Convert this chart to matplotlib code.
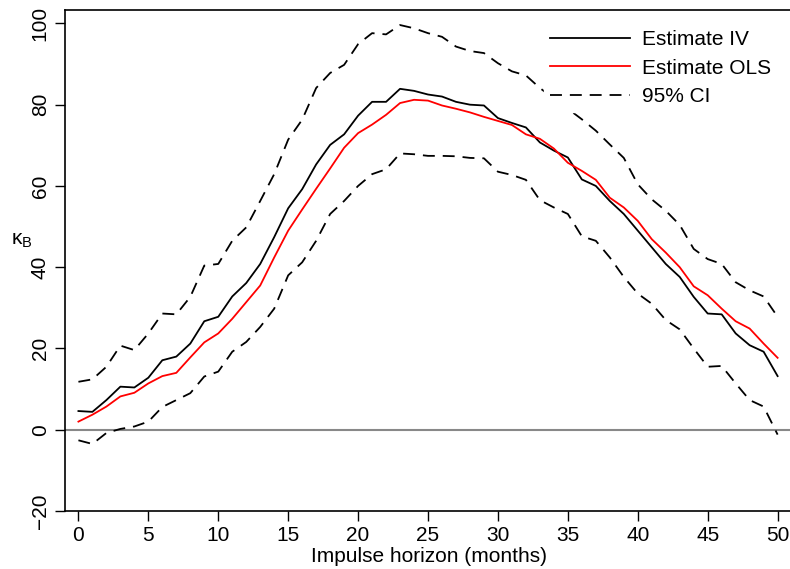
import matplotlib
matplotlib.use("Agg")
import matplotlib.pyplot as plt
import numpy as np

plt.rcParams['font.family'] = ['Liberation Sans', 'DejaVu Sans']
plt.rcParams['mathtext.fontset'] = 'custom'
plt.rcParams['mathtext.rm'] = 'Liberation Sans'
plt.rcParams['mathtext.it'] = 'Liberation Sans'

# Impulse horizon (months)
horizon = list(range(51))

estimate_iv = [4.6, 4.4, 7.3, 10.6, 10.4, 12.8, 17.1, 18.0, 21.2, 26.7,
               27.8, 32.8, 36.1, 40.8, 47.4, 54.5, 59.2, 65.3, 70.1, 72.7,
               77.3, 80.7, 80.7, 83.9, 83.4, 82.5, 82.0, 80.7, 80.0, 79.8,
               76.7, 75.5, 74.4, 70.7, 68.7, 67.0, 61.6, 60.0, 56.3, 53.1,
               49.0, 44.9, 40.8, 37.6, 32.7, 28.6, 28.4, 23.7, 20.8, 19.2,
               13.2]

estimate_ols = [2.0, 3.7, 5.7, 8.2, 9.1, 11.4, 13.2, 14.0, 17.8, 21.5,
                23.7, 27.3, 31.4, 35.5, 42.4, 49.0, 54.2, 59.3, 64.3, 69.4,
                73.0, 75.1, 77.5, 80.4, 81.2, 81.0, 79.8, 79.0, 78.1, 77.0,
                76.0, 75.0, 72.7, 71.6, 69.2, 65.7, 63.7, 61.5, 57.1, 54.7,
                51.4, 46.9, 43.6, 40.0, 35.3, 33.1, 29.8, 26.7, 24.9, 21.2,
                17.7]

ci_upper = [11.8, 12.4, 15.5, 20.7, 19.6, 23.7, 28.6, 28.4, 32.7, 40.4,
            40.8, 46.5, 49.8, 56.3, 62.9, 71.4, 76.3, 84.1, 87.8, 89.8,
            94.9, 97.6, 97.3, 99.6, 98.8, 97.6, 96.7, 94.3, 93.2, 92.7,
            90.2, 88.2, 87.2, 84.1, 81.5, 79.0, 76.4, 73.6, 70.2, 66.9,
            60.4, 56.7, 53.9, 50.4, 44.5, 42.0, 40.8, 36.3, 34.3, 32.8,
            27.8]

ci_lower = [-2.6, -3.5, -0.8, 0.2, 0.8, 2.0, 5.6, 7.3, 9.0, 13.1,
            14.3, 19.2, 21.6, 25.3, 29.8, 38.0, 41.2, 46.5, 53.1, 56.3,
            60.0, 62.9, 64.1, 68.0, 67.8, 67.4, 67.4, 67.3, 66.9, 66.8,
            63.5, 62.7, 61.5, 56.5, 54.7, 53.1, 47.6, 46.5, 42.4, 37.6,
            33.5, 31.0, 27.0, 24.7, 20.0, 15.5, 15.7, 11.4, 7.3, 5.7,
            -1.2]

x_ticks = list(range(0, 51, 5))
y_ticks = [-20, 0, 20, 40, 60, 80, 100]

fig = plt.figure(figsize=(7.9, 5.69), dpi=100)
ax = fig.add_axes([65 / 790, 1 - 511 / 569, 728 / 790, 501 / 569])

lw = 1.3
dash = (0, (6.6, 4.4))
ax.axhline(0, color='#888888', lw=1.5, zorder=1)
ax.plot(horizon, estimate_iv, color='black', lw=lw, label='Estimate IV', zorder=3)
ax.plot(horizon, estimate_ols, color='red', lw=lw, label='Estimate OLS', zorder=3)
ax.plot(horizon, ci_upper, color='black', lw=lw, ls=dash, label='95% CI', zorder=2)
ax.plot(horizon, ci_lower, color='black', lw=lw, ls=dash, zorder=2)

ax.set_xlim(-0.96, 51.1)
ax.set_ylim(-20, 103.3)
ax.set_xticks(x_ticks)
ax.set_yticks(y_ticks)
ax.set_yticklabels([str(v).replace('-', '\u2212') for v in y_ticks])
ax.tick_params(axis='both', direction='out', length=7, width=1, labelsize=15, pad=4)
ax.tick_params(axis='y', labelrotation=90)
for lab in ax.get_yticklabels():
    lab.set_verticalalignment('center')
ax.spines['right'].set_visible(False)
for s in ['left', 'bottom', 'top']:
    ax.spines[s].set_linewidth(1.2)

ax.set_xlabel('Impulse horizon (months)', fontsize=15, labelpad=1)
fig.text(22 / 790, 1 - 240 / 569, r'$\mathrm{κ}_\mathrm{B}$', fontsize=15,
         ha='center', va='center')

leg = ax.legend(loc='upper left', bbox_to_anchor=(544 / 790, 1 - 24 / 569),
                bbox_transform=fig.transFigure, fontsize=15, frameon=True,
                fancybox=False, facecolor='white', edgecolor='white',
                framealpha=1, handlelength=3.85, handletextpad=0.55,
                labelspacing=0.45, borderpad=0.3, borderaxespad=0)
leg.set_zorder(5)

fig.savefig('out.png', dpi=100)
